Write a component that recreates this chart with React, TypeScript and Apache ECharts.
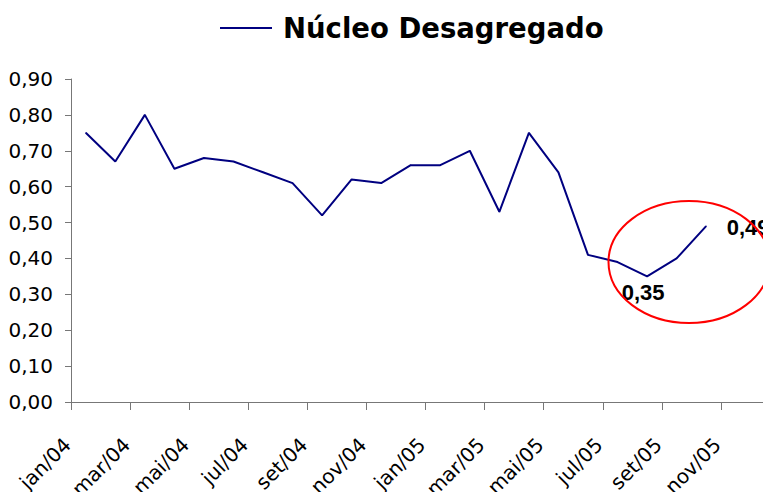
import React, { useEffect, useRef } from "react";
import * as echarts from "echarts";

const months: string[] = [
  "jan/04", "fev/04", "mar/04", "abr/04", "mai/04", "jun/04", "jul/04", "ago/04",
  "set/04", "out/04", "nov/04", "dez/04", "jan/05", "fev/05", "mar/05", "abr/05",
  "mai/05", "jun/05", "jul/05", "ago/05", "set/05", "out/05", "nov/05", "dez/05",
];
const nucleoDesagregado: (number | null)[] = [
  0.75, 0.67, 0.8, 0.65, 0.68, 0.67, 0.64, 0.61, 0.52, 0.62, 0.61, 0.66,
  0.66, 0.7, 0.53, 0.75, 0.64, 0.41, 0.39, 0.35, 0.4, 0.49, null, null,
];
const labeledPoints: { index: number; position: string; distance: number; offset: number[] }[] = [
  { index: 19, position: "bottom", distance: 5, offset: [-4, 0] },
  { index: 21, position: "right", distance: 20, offset: [0, 1] },
];
const seriesName = "Núcleo Desagregado";

const fmt = (v: number) => v.toFixed(2).replace(".", ",");

export default function App() {
  const ref = useRef<HTMLDivElement>(null);
  useEffect(() => {
    if (!ref.current) return;
    const chart = echarts.init(ref.current, undefined, { renderer: "svg" });
    const data = nucleoDesagregado.map((v, i) => {
      const lp = labeledPoints.find((p) => p.index === i);
      if (!lp || v === null) return v;
      return {
        value: v,
        label: {
          show: true,
          position: lp.position,
          distance: lp.distance,
          offset: lp.offset,
          formatter: (p: any) => fmt(p.value),
          fontFamily: "Liberation Sans, Arial",
          fontWeight: "bold",
          fontSize: 22,
          color: "#000",
        },
      };
    });
    chart.setOption({
      animation: false,
      backgroundColor: "#fff",
      legend: {
        left: 220,
        top: 14,
        padding: 0,
        icon: "rect",
        itemWidth: 52,
        itemHeight: 2,
        data: [seriesName],
        selectedMode: false,
        textStyle: {
          fontFamily: "DejaVu Sans",
          fontWeight: "bold",
          fontSize: 27.5,
          color: "#000",
          padding: [0, 0, 0, 6],
        },
      },
      grid: { left: 71, top: 79, right: -9, bottom: 98, containLabel: false, outerBoundsMode: "none" },
      xAxis: {
        type: "category",
        data: months,
        boundaryGap: true,
        axisLine: { lineStyle: { color: "#777", width: 1 } },
        axisTick: { show: true, interval: 1, length: 8, lineStyle: { color: "#777" } },
        axisLabel: {
          interval: 1,
          rotate: 45,
          margin: 21,
          padding: [0, 26, 0, 0],
          fontFamily: "DejaVu Sans",
          fontSize: 20,
          color: "#000",
        },
        splitLine: { show: false },
      },
      yAxis: {
        type: "value",
        min: 0,
        max: 0.9,
        interval: 0.1,
        axisLine: { show: true, lineStyle: { color: "#777", width: 1 } },
        axisTick: { show: true, length: 6, lineStyle: { color: "#777" } },
        axisLabel: {
          margin: 18,
          formatter: (v: number) => fmt(v),
          fontFamily: "DejaVu Sans",
          fontSize: 20,
          color: "#000",
        },
        splitLine: { show: false },
      },
      series: [
        {
          name: seriesName,
          type: "line",
          data,
          color: "#000080",
          symbol: "circle",
          symbolSize: 1,
          showSymbol: true,
          lineStyle: { color: "#000080", width: 2 },
          itemStyle: { color: "#000080" },
          connectNulls: false,
        },
      ],
      graphic: [
        {
          type: "ellipse",
          shape: { cx: 689, cy: 262, rx: 80.5, ry: 61 },
          style: { fill: "none", stroke: "#FF0000", lineWidth: 2 },
          z: 100,
        },
      ],
    });
    return () => chart.dispose();
  }, []);
  return <div ref={ref} style={{ width: 771, height: 500, margin: -8 }} />;
}
